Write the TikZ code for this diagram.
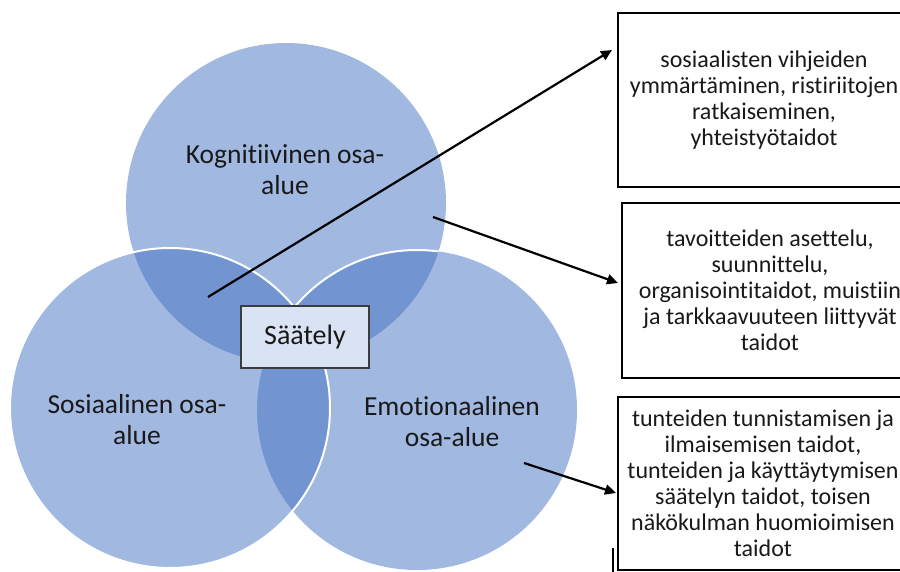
\documentclass[tikz,border=0pt]{standalone}
\usepackage{fontspec}
\setmainfont{Carlito}[Ligatures=NoCommon]
\usetikzlibrary{arrows.meta,calc}
\definecolor{vlight}{RGB}{161,184,225}
\definecolor{vdark}{RGB}{114,149,210}
\definecolor{boxfill}{RGB}{218,227,243}
\definecolor{txt}{RGB}{25,25,25}
\begin{document}
\begin{tikzpicture}[x=1bp,y=-1bp,
  lbl/.style={font=\fontsize{27.5bp}{31bp}\selectfont, align=center, text=txt, inner sep=0pt},
  infobox/.style={draw=black, line width=2bp, fill=white, inner sep=0pt, align=center,
    font=\fontsize{24bp}{26bp}\selectfont, text=txt},
  centerbox/.style={draw={rgb,255:red,60;green,60;blue,60}, line width=1.3bp, fill=boxfill,
    inner sep=0pt, minimum width=128bp, minimum height=62bp,
    font=\fontsize{28bp}{31bp}\selectfont, text=txt},
  conn/.style={draw=black, line width=2.2bp, -{Triangle[length=11bp,width=10bp]}}]
\useasboundingbox (0,0) rectangle (900,572);
\clip (0,0) rectangle (900,572);
\coordinate (T) at (286,203);
\coordinate (L) at (170,408);
\coordinate (R) at (417,410);
% circles
\fill[vlight] (T) circle (160) (L) circle (160) (R) circle (160);
\begin{scope}
  \clip (T) circle (160);
  \fill[vdark] (L) circle (160) (R) circle (160);
\end{scope}
\begin{scope}
  \clip (L) circle (160);
  \fill[vdark] (R) circle (160);
\end{scope}
% white outlines
\begin{scope}
  \clip (T) circle (160);
  \draw[white, line width=2bp] (R) circle (160);
\end{scope}
\draw[white, line width=2bp] (L) circle (160);
% labels
\node[lbl] (kog) at (285,170) {Kognitiivinen osa-\\alue};
\node[lbl] (sos) at (137,420) {Sosiaalinen osa-\\alue};
\node[lbl] (emo) at (452,422) {Emotionaalinen\\osa-alue};
\node[centerbox] (saat) at (305,337) {Säätely};
% info boxes
\node[infobox, minimum width=292bp, minimum height=174bp] (box1) at (764,100)
  {sosiaalisten vihjeiden\\ymmärtäminen, ristiriitojen\\ratkaiseminen,\\yhteistyötaidot};
\node[infobox, minimum width=296bp, minimum height=175bp] (box2) at (770,290.5)
  {tavoitteiden asettelu,\\suunnittelu,\\organisointitaidot, muistiin\\ja tarkkaavuuteen liittyvät\\taidot};
\node[infobox, minimum width=290bp, minimum height=173bp] (box3) at (763,483.5)
  {tunteiden tunnistamisen ja\\ilmaisemisen taidot,\\tunteiden ja käyttäytymisen\\säätelyn taidot, toisen\\näkökulman huomioimisen\\taidot};
% connectors
\coordinate (a1s) at (208,297);
\coordinate (a1e) at ($(box1.west)+(-5,-50)$);
\coordinate (a2s) at (433,217);
\coordinate (a2e) at ($(box2.west)+(-3,-7.5)$);
\coordinate (a3s) at (524,463);
\coordinate (a3e) at ($(box3.west)+(-1,9.5)$);
\draw[conn] (a1s) -- (a1e);
\draw[conn] (a2s) -- (a2e);
\draw[conn] (a3s) -- (a3e);
% small stray mark
\coordinate (m1) at (613,548);
\coordinate (m2) at (613,572);
\draw[black, line width=1.2bp] (m1) -- (m2);
\end{tikzpicture}
\end{document}
